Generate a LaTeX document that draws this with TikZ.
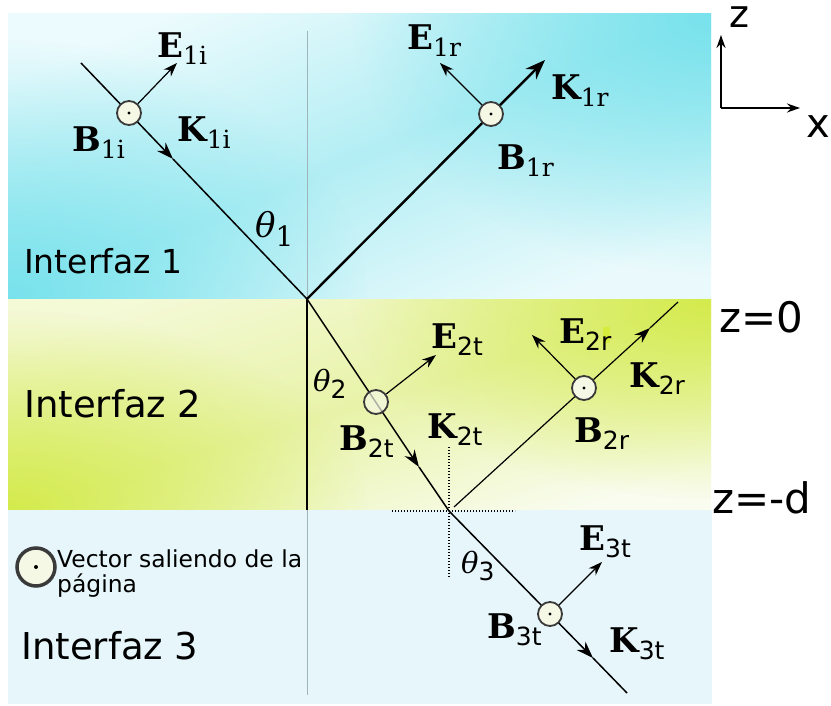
\documentclass[tikz,border=0pt]{standalone}
\usepackage{fontspec}
\setmainfont{DejaVu Sans}
\newfontfamily\dserif{DejaVu Serif}
\newfontfamily\dsans{DejaVu Sans}
\usetikzlibrary{arrows.meta,calc,fadings}
\definecolor{topL}{HTML}{ECFBFD}
\definecolor{topM}{HTML}{B2EEF4}
\definecolor{topS}{HTML}{78E2EC}
\definecolor{topR}{HTML}{EAFAFC}
\definecolor{midL}{HTML}{F4F9D6}
\definecolor{midM}{HTML}{E8F3A8}
\definecolor{midS}{HTML}{D4EB4C}
\definecolor{midR}{HTML}{F9FCEE}
\definecolor{botc}{HTML}{E6F6FA}
\definecolor{glinec}{HTML}{9FB5B9}
\definecolor{circd}{HTML}{3A3A3A}
\definecolor{cfill}{HTML}{F6F8E6}
\definecolor{artc}{HTML}{D6EC3C}
\pgfdeclarehorizontalshading{topband}{100bp}{color(0bp)=(topL); color(25bp)=(topL); color(50bp)=(topM); color(75bp)=(topR); color(100bp)=(topR)}
\pgfdeclarehorizontalshading{midband}{100bp}{color(0bp)=(midL); color(25bp)=(midL); color(50bp)=(midM); color(75bp)=(midR); color(100bp)=(midR)}
\tikzfading[name=radf, inner color=transparent!0, outer color=transparent!100]
\newcommand{\VL}[3]{{\fontsize{34}{34}\selectfont\dserif\bfseries #1}\raisebox{-7pt}{\fontsize{25}{25}\selectfont #2#3}}
\newcommand{\ThLab}[4]{{\fontsize{#1}{#1}\selectfont\dserif\itshape θ}\raisebox{-#3}{\fontsize{#2}{#2}\selectfont #4}}
\begin{document}
\begin{tikzpicture}[x=1pt,y=-1pt,
  ray/.style={line width=1.5pt},
  kray/.style={line width=1.5pt,-{Stealth[length=17pt,width=12pt]}},
  earr/.style={line width=1.2pt,-{Stealth[length=14pt,width=10pt]}},
  bcirc/.style={circle,draw=circd,fill=cfill,line width=1.8pt,minimum size=24pt,inner sep=0pt},
  lab/.style={inner sep=0pt,anchor=base west},
  dotl/.style={line width=1.4pt,dash pattern=on 1.4pt off 1.6pt},
  grayline/.style={line width=1pt,draw=glinec}]
\useasboundingbox (0,0) rectangle (831,706);
\fill[white] (0,0) rectangle (831,706);
% top band
\shade[shading=topband,shading angle=-68] (8,14) rectangle (711,299);
\begin{scope}
  \clip (8,14) rectangle (711,299);
  \fill[topS,path fading=radf] (8,299) ellipse (360 and 260);
  \fill[topS,path fading=radf] (711,14) ellipse (360 and 260);
\end{scope}
% middle band
\shade[shading=midband,shading angle=-73] (8,299) rectangle (711,510);
\begin{scope}
  \clip (8,299) rectangle (711,510);
  \fill[midS,path fading=radf] (8,510) ellipse (360 and 200);
  \fill[midS,path fading=radf] (711,299) ellipse (360 and 200);
\end{scope}
% bottom band
\fill[botc] (8,510) rectangle (712,704);
% normal line
\coordinate (N1) at (307,31);
\coordinate (O1) at (307,299);
\coordinate (N2) at (307,510);
\coordinate (N3) at (307,695);
\draw[grayline] (N1) -- (O1);
\draw[line width=1.5pt] (O1) -- (N2);
\draw[grayline] (N2) -- (N3);
% key points
\coordinate (S1) at (81,63);
\coordinate (K1i) at (173,159);
\coordinate (R1) at (545,60);
\coordinate (O2) at (449,511);
\coordinate (K2t) at (419,467);
\coordinate (S2r) at (454,507);
\coordinate (K2r) at (650,328);
\coordinate (T2r) at (678,302);
\coordinate (K3t) at (593,658);
\coordinate (T3) at (627,693);
% dotted normal at z=-d
\coordinate (DV1) at (449,447);
\coordinate (DV2) at (449,578);
\coordinate (DH1) at (392,511);
\coordinate (DH2) at (515,511);
\draw[dotl] (DV1) -- (DV2);
\draw[dotl] (DH1) -- (DH2);
% rays
\draw[kray] (S1) -- (K1i);
\draw[ray] (K1i) -- (O1);
\draw[line width=2.4pt,-{Stealth[length=20pt,width=15pt]}] (O1) -- (R1);
\draw[kray] (O1) -- (K2t);
\draw[ray] (K2t) -- (O2);
\draw[line width=1.2pt,-{Stealth[length=16pt,width=11pt]}] (S2r) -- (K2r);
\draw[line width=1.2pt] (K2r) -- (T2r);
\draw[kray] (O2) -- (K3t);
\draw[ray] (K3t) -- (T3);
% B circles
\node[bcirc] (c1i) at (129,113) {};
\node[bcirc] (c1r) at (491,114) {};
\node[bcirc,fill opacity=0.7] (c2t) at (376,402) {};
\node[bcirc] (c2r) at (584,388) {};
\node[bcirc] (c3t) at (550,614) {};
\foreach \c in {c1i,c1r,c2r,c3t} \fill (\c.center) circle (1.6pt);
% E arrows
\coordinate (e1i) at (177,63);
\coordinate (e1r) at (440,63);
\coordinate (e2t) at (436,355);
\coordinate (e2r) at (532,335);
\coordinate (e3t) at (602,562);
\draw[earr] (c1i) -- (e1i);
\draw[earr] (c1r) -- (e1r);
\draw[earr] (c2t) -- (e2t);
\draw[earr] (c2r) -- (e2r);
\draw[earr] (c3t) -- (e3t);
% artifact
\fill[artc] (603,327) rectangle (610,343);
% vector labels
\node[lab] (le1i) at (157,58) {\VL{E}{\dserif}{1i}};
\node[lab] (lb1i) at (72,152) {\VL{B}{\dserif}{1i}};
\node[lab] (lk1i) at (177,142) {\VL{K}{\dserif}{1i}};
\node[lab] (le1r) at (407,50) {\VL{E}{\dserif}{1r}};
\node[lab] (lk1r) at (551,100) {\VL{K}{\dserif}{1r}};
\node[lab] (lb1r) at (497,170) {\VL{B}{\dserif}{1r}};
\node[lab] (le2t) at (431,348) {\VL{E}{\dsans}{2t}};
\node[lab] (lb2t) at (339,450) {\VL{B}{\dsans}{2t}};
\node[lab] (lk2t) at (427,438) {\VL{K}{\dsans}{2t}};
\node[lab] (le2r) at (559,343) {\VL{E}{\dsans}{2r}};
\node[lab] (lk2r) at (629,387) {\VL{K}{\dsans}{2r}};
\node[lab] (lb2r) at (574,442) {\VL{B}{\dsans}{2r}};
\node[lab] (le3t) at (579,550) {\VL{E}{\dsans}{3t}};
\node[lab] (lb3t) at (487,638) {\VL{B}{\dsans}{3t}};
\node[lab] (lk3t) at (609,652) {\VL{K}{\dsans}{3t}};
% angles
\node[lab] (th1) at (255,238) {\ThLab{34}{28}{9pt}{\dserif 1}};
\node[lab] (th2) at (313,391) {\ThLab{29}{25}{7pt}{\dsans 2}};
\node[lab] (th3) at (461,573) {\ThLab{29}{25}{7pt}{\dsans 3}};
% region labels
\node[lab] (i1) at (24,273) {\fontsize{33}{33}\selectfont Interfaz 1};
\node[lab] (i2) at (24,417) {\fontsize{37}{37}\selectfont Interfaz 2};
\node[lab] (i3) at (21,659) {\fontsize{37}{37}\selectfont Interfaz 3};
\node[lab] (z0) at (719,332) {\fontsize{42}{42}\selectfont z=0};
\node[lab] (zd) at (712,513) {\fontsize{42}{42}\selectfont z=-d};
% axes
\coordinate (ax) at (721,108);
\coordinate (axz) at (721,35);
\coordinate (axx) at (800,108);
\draw[line width=1.5pt,-{Stealth[length=13pt,width=9pt]}] (ax) -- (axz);
\draw[line width=1.5pt,-{Stealth[length=13pt,width=9pt]}] (ax) -- (axx);
\node[lab,text height=21pt] (zl) at (729,28) {\fontsize{38}{38}\selectfont z};
\node[lab] (xl) at (806,138) {\fontsize{40}{40}\selectfont x};
% legend
\node[circle,draw=circd,fill=cfill,line width=3.5pt,minimum size=38pt,inner sep=0pt] (leg) at (36,567) {};
\fill (leg.center) circle (2pt);
\node[lab] (lt1) at (57,567) {\fontsize{23.4}{23.4}\selectfont Vector saliendo de la};
\node[lab] (lt2) at (57,592) {\fontsize{23.4}{23.4}\selectfont página};
\end{tikzpicture}
\end{document}
